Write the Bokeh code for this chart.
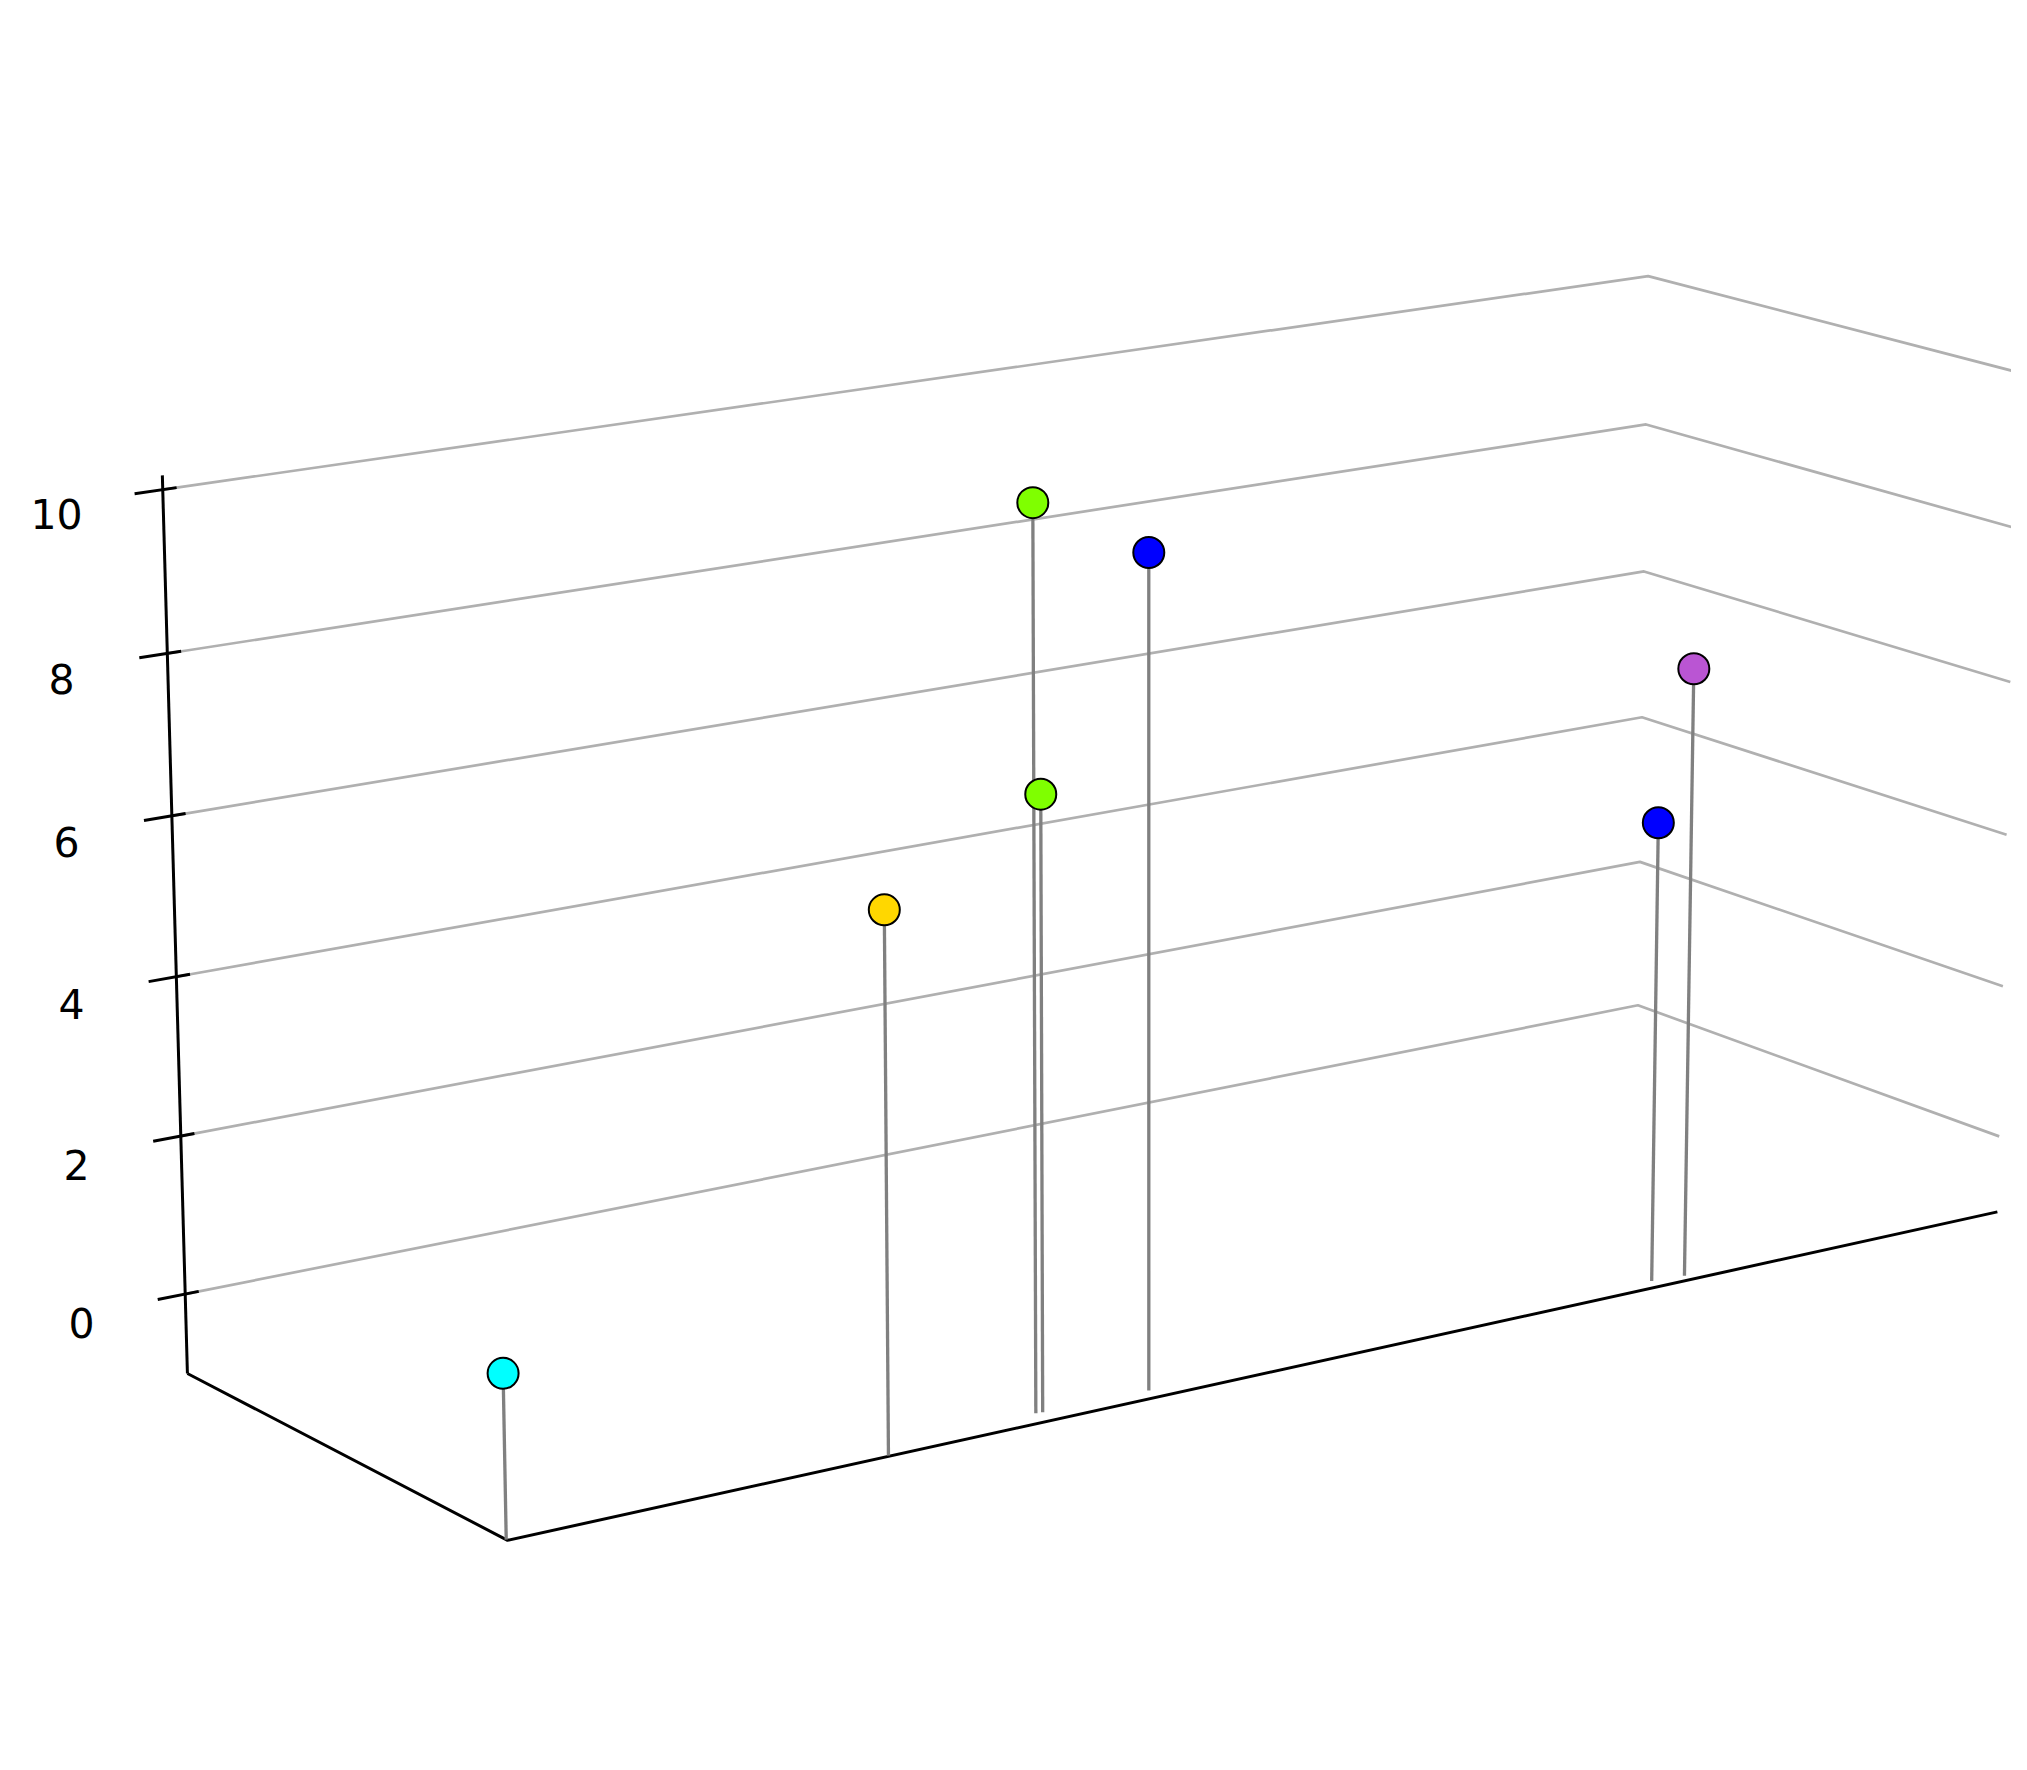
import numpy as np
from bokeh.plotting import figure
from bokeh.models import Range1d, ColumnDataSource
from bokeh.embed import file_html
from bokeh.resources import INLINE
from bokeh.core.properties import value

# ---------------- data ----------------
x_vals = [0.00, 2.36, 3.40, 3.44, 4.12, 7.56, 7.77]
y_vals = [0.04, 0.03, 0.44, 0.42, 0.35, 0.31, 0.22]
z_vals = [1.00, 5.68, 10.18, 6.65, 9.38, 4.93, 6.84]
point_colors = ["#00ffff", "#ffd700", "#7fff00", "#7fff00", "#0000ff", "#0000ff", "#ba55d3"]
z_ticks = [0, 2, 4, 6, 8, 10]
z_tick_labels = ["0", "2", "4", "6", "8", "10"]

# axis limits
x_lim = (0.0, 10.0)
y_lim = (0.0, 10.0)
z_lim = (-1.012, 10.173)

# ---------------- camera (perspective) ----------------
FOCAL = 9173.80
CX, CY = 1069.63, 813.38
BOX_W, BOX_D = 22.3362, 7.5079
EYE = np.array([-51.3931, -86.0941, 33.8071])
AZ, EL, ROLL = np.radians(55.451), np.radians(-14.668), np.radians(0.131)

fwd = np.array([np.cos(EL) * np.cos(AZ), np.cos(EL) * np.sin(AZ), np.sin(EL)])
r0 = np.cross(fwd, [0.0, 0.0, 1.0]); r0 /= np.linalg.norm(r0)
d0 = np.cross(fwd, r0)
right = np.cos(ROLL) * r0 + np.sin(ROLL) * d0
down = -np.sin(ROLL) * r0 + np.cos(ROLL) * d0
ROT = np.array([right, down, fwd])


def project(x, y, z):
    x = np.atleast_1d(np.asarray(x, float))
    y = np.atleast_1d(np.asarray(y, float))
    z = np.atleast_1d(np.asarray(z, float))
    x, y, z = np.broadcast_arrays(x, y, z)
    X = (x - x_lim[0]) / (x_lim[1] - x_lim[0]) * BOX_W
    Y = (y - y_lim[0]) / (y_lim[1] - y_lim[0]) * BOX_D
    Pw = np.stack([X, Y, z]) - EYE[:, None]
    pc = ROT @ Pw
    return CX + FOCAL * pc[0] / pc[2], CY + FOCAL * pc[1] / pc[2]


p = figure(width=2011, height=1754, x_range=Range1d(0, 2011), y_range=Range1d(1754, 0),
           output_backend="svg", toolbar_location=None, min_border=0)
p.axis.visible = False
p.grid.visible = False
p.outline_line_color = None
p.background_fill_color = "white"
p.border_fill_color = "white"

x0, x1 = x_lim
y0, y1 = y_lim
zmin, zmax = z_lim

# grid lines on back wall and side wall
gx, gy = [], []
for z in z_ticks:
    px, py = project([x0, x1, x1], [y1, y1, y0], [z, z, z])
    gx.append(list(px)); gy.append(list(py))
p.multi_line(gx, gy, line_color="#b0b0b0", line_width=2.7)

# floor edges
fx, fy = project([x0, x0, x1], [y1, y0, y0], [zmin, zmin, zmin])
p.line(list(fx), list(fy), line_color="black", line_width=3.0)

# vertical axis
ax_x, ax_y = project([x0, x0], [y1, y1], [zmin, zmax])
p.line(list(ax_x), list(ax_y), line_color="black", line_width=3.0)

# ticks
dx = x1 - x0
t_out = x0 - 0.017 * dx
t_in = x0 + 0.0084 * dx
tx0, ty0 = project([t_out] * len(z_ticks), [y1] * len(z_ticks), z_ticks)
tx1, ty1 = project([t_in] * len(z_ticks), [y1] * len(z_ticks), z_ticks)
p.segment(tx0, ty0, tx1, ty1, line_color="black", line_width=3.0)

# tick labels
lx, ly = project([x0 - 0.064 * dx] * len(z_ticks), [y1] * len(z_ticks), np.array(z_ticks) - 0.11)
p.text(lx, ly, text=z_tick_labels, text_font=value("DejaVu Sans"), text_font_size="41px",
       text_align="center", text_baseline="middle", text_color="black")

# stems
sx0, sy0 = project(x_vals, y_vals, [zmin] * len(z_vals))
sx1, sy1 = project(x_vals, y_vals, z_vals)
p.segment(sx0, sy0, sx1, sy1, line_color="#808080", line_width=3.3)

# markers
src = ColumnDataSource(dict(x=sx1, y=sy1, c=point_colors))
p.scatter("x", "y", source=src, size=31, fill_color="c", line_color="black", line_width=2)

open("out.html", "w").write(file_html(p, INLINE))
